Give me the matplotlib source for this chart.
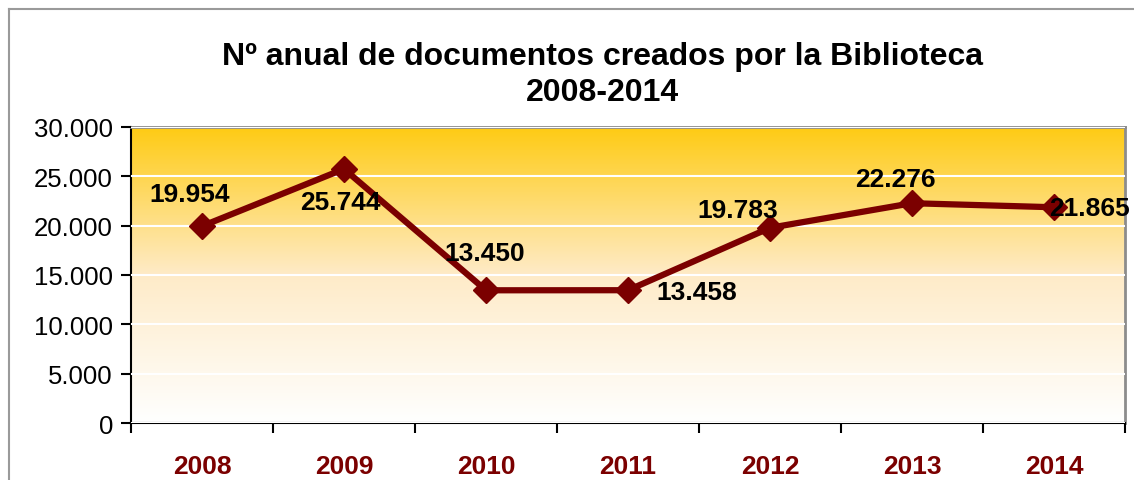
import numpy as np
import matplotlib
matplotlib.use("Agg")
import matplotlib.pyplot as plt
from matplotlib.ticker import FuncFormatter, FixedLocator
from matplotlib.colors import LinearSegmentedColormap
from matplotlib.lines import Line2D

# -- data
years = ["2008", "2009", "2010", "2011", "2012", "2013", "2014"]
docs = [19954, 25744, 13450, 13458, 19783, 22276, 21865]
labels = ["19.954", "25.744", "13.450", "13.458", "19.783", "22.276", "21.865"]
# label offsets (pixels) from each point
label_offsets = [(-12, 32), (-4, -33), (-1, 37), (69, -2), (-32, 18), (-17, 24), (36, -1)]

plt.rcParams['font.family'] = ['Liberation Sans', 'DejaVu Sans']
dark_red = "#7B0000"

fig = plt.figure(figsize=(11.34, 4.81), dpi=100)

# outer chart frame (only top and left edges are inside the picture)
fx, fy = 9 / 1134, 1 - 10 / 481
fig.lines.append(Line2D([fx, 1.0], [fy, fy], transform=fig.transFigure,
                        color="#9a9a9a", linewidth=1.5))
fig.lines.append(Line2D([fx, fx], [0.0, fy], transform=fig.transFigure,
                        color="#9a9a9a", linewidth=1.5))

ax = fig.add_axes([131 / 1134, 1 - 424 / 481, (1125 - 131) / 1134, (424 - 128) / 481])

x = np.arange(len(years))
ax.set_xlim(-0.5, len(years) - 0.5)
ax.set_ylim(0, 30000)

# gradient background of plot area
cmap = LinearSegmentedColormap.from_list("bg", ["#FFFFFF", "#FEEBC8", "#FFCB14"])
grad = np.linspace(0, 1, 256).reshape(-1, 1)
ax.imshow(grad, cmap=cmap, aspect="auto", origin="lower",
          extent=[-0.5, len(years) - 0.5, 0, 30000], zorder=0)

ax.set_yticks(np.arange(0, 30001, 5000))
ax.yaxis.set_major_formatter(FuncFormatter(lambda v, p: f"{int(v):,}".replace(",", ".")))
ax.grid(axis="y", color="white", linewidth=1.5, zorder=1)
ax.set_axisbelow(False)

ax.plot(x, docs, color=dark_red, linewidth=4.5, marker="D", markersize=13,
        zorder=3, solid_joinstyle="miter")

for xi, yi, lab, (dx, dy) in zip(x, docs, labels, label_offsets):
    ax.annotate(lab, (xi, yi), xytext=(dx, dy), textcoords="offset pixels",
                ha="center", va="center", fontsize=19, fontweight="bold",
                color="black", zorder=4, annotation_clip=False)

# category axis: labels at centres, ticks between categories
ax.set_xticks(x)
ax.set_xticklabels(years, fontsize=19, fontweight="bold", color=dark_red)
ax.tick_params(axis="x", which="major", length=0, pad=22)
ax.xaxis.set_minor_locator(FixedLocator(np.arange(-0.5, len(years), 1)))
ax.tick_params(axis="x", which="minor", length=7, width=1.5, direction="out")
ax.tick_params(axis="y", labelsize=18.5, length=7, width=1.5, direction="out", pad=6)

for side in ["left", "bottom"]:
    ax.spines[side].set_color("black")
    ax.spines[side].set_linewidth(1.5)
for side in ["top", "right"]:
    ax.spines[side].set_color("#8c8c8c")
    ax.spines[side].set_linewidth(2)

fig.text(602 / 1134, 1 - 57 / 481, "Nº anual de documentos creados por la Biblioteca",
         ha="center", va="center", fontsize=23, fontweight="bold")
fig.text(602 / 1134, 1 - 93 / 481, "2008-2014",
         ha="center", va="center", fontsize=23, fontweight="bold")

fig.savefig("out.png", dpi=100)
